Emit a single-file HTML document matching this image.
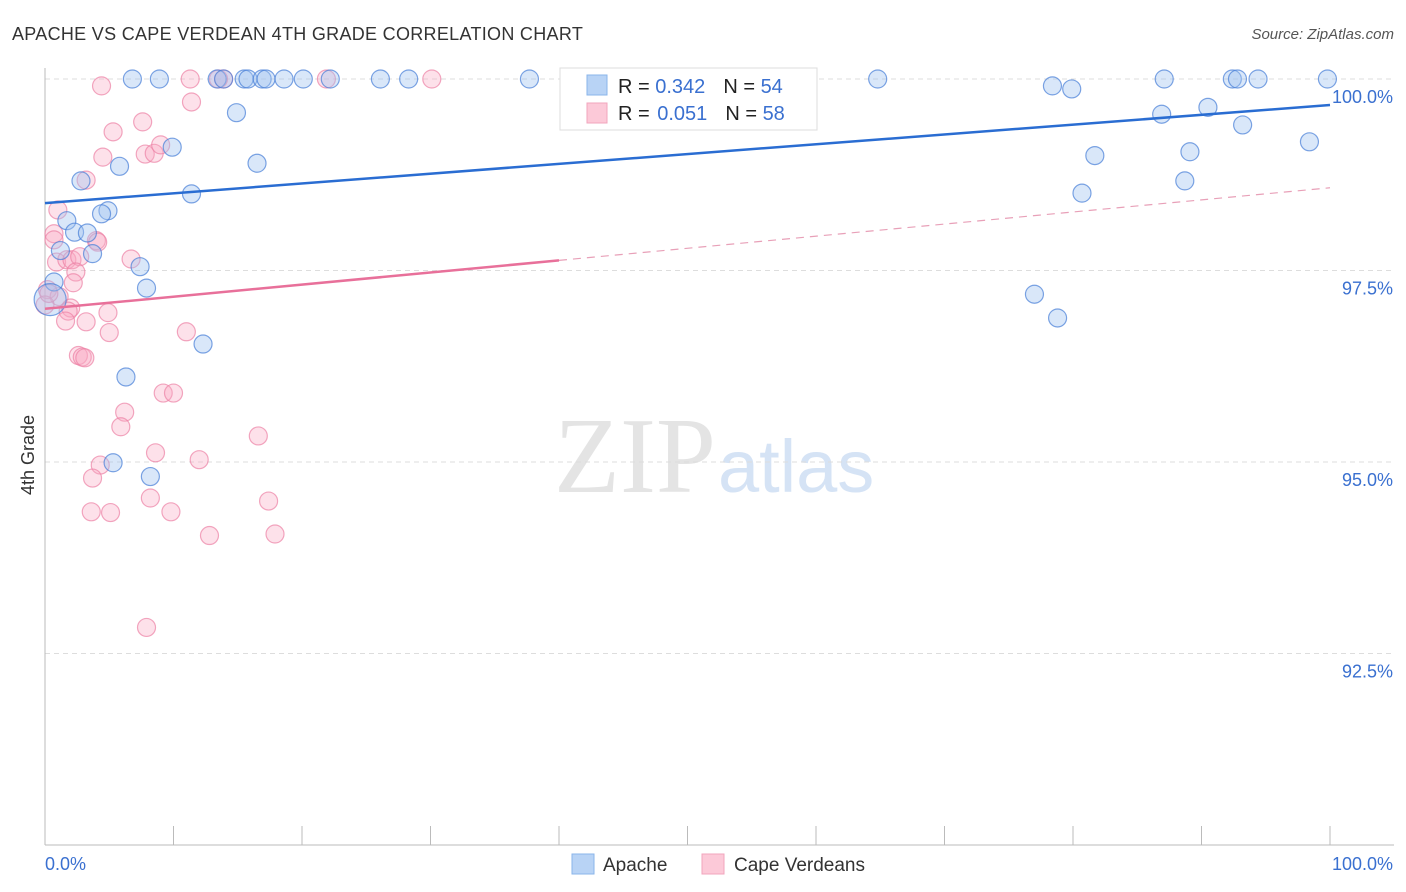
<!DOCTYPE html>
<html><head><meta charset="utf-8"><style>
body{margin:0;background:#fff;font-family:"Liberation Sans",sans-serif}
svg{display:block}
</style></head><body>
<svg id="c" width="1406" height="892" xmlns="http://www.w3.org/2000/svg">
<text x="12" y="40" font-size="18" fill="#333" letter-spacing="0.3">APACHE VS CAPE VERDEAN 4TH GRADE CORRELATION CHART</text>
<text x="1394" y="39" font-size="15" fill="#555" font-style="italic" text-anchor="end">Source: ZipAtlas.com</text>
<text x="716" y="492" font-size="108" fill="#e4e4e4" text-anchor="end" font-family="Liberation Serif,serif">ZIP</text>
<text x="718" y="492" font-size="74" fill="#d5e3f5">atlas</text>
<text x="34" y="455" font-size="18" fill="#333" transform="rotate(-90 34 455)" text-anchor="middle">4th Grade</text>
<g id="grid"></g><g id="axes"></g><g id="pts"></g><g id="lines"></g>
<g>
<rect x="560" y="68" width="257" height="62" fill="#fff" stroke="#ddd"/>
<rect x="587" y="75" width="20" height="20" fill="#b8d3f5" stroke="#8ab4ea"/>
<rect x="587" y="103" width="20" height="20" fill="#fcc9d8" stroke="#f2a5bd"/>
<text x="618" y="93" font-size="20" fill="#222">R = <tspan fill="#3a70d0">0.342</tspan><tspan dx="18">N = </tspan><tspan fill="#3a70d0">54</tspan></text>
<text x="618" y="120" font-size="20" fill="#222">R = <tspan fill="#3a70d0" dx="2">0.051</tspan><tspan dx="18">N = </tspan><tspan fill="#3a70d0">58</tspan></text>
</g>
<g>
<rect x="572" y="854" width="22" height="20" fill="#b8d3f5" stroke="#8ab4ea"/>
<text x="603" y="871" font-size="19" fill="#333">Apache</text>
<rect x="702" y="854" width="22" height="20" fill="#fcc9d8" stroke="#f2a5bd"/>
<text x="734" y="871" font-size="19" fill="#333">Cape Verdeans</text>
</g>
</svg>
<script>
const apacheX=[6.8,8.9,13.4,13.9,15.5,15.8,16.9,17.2,18.6,20.1,22.2,26.1,28.3,37.7,64.8,78.4,79.9,87.1,92.4,92.8,94.4,99.8,14.9,86.9,90.5,93.2,9.9,98.4,16.5,5.8,81.7,89.1,2.8,88.7,11.4,80.7,4.9,4.4,1.7,2.3,3.3,1.2,3.7,7.4,0.7,7.9,77.0,78.8,0.4,12.3,6.3,5.3,8.2];
const apacheY=[100,100,100,100,100,100,100,100,100,100,100,100,100,100,100,99.91,99.87,100,100,100,100,100,99.56,99.54,99.63,99.40,99.11,99.18,98.90,98.86,99.0,99.05,98.67,98.67,98.50,98.51,98.28,98.24,98.15,98.0,97.99,97.76,97.72,97.55,97.35,97.27,97.19,96.88,97.12,96.54,96.11,94.99,94.81];
const capeX=[4.4,11.3,13.9,13.5,21.9,30.1,11.4,5.3,7.6,4.5,7.8,8.5,9.0,3.2,1.0,0.7,0.7,4.0,4.1,0.9,1.7,2.1,2.7,6.7,2.4,2.2,0.2,1.1,2.0,1.8,4.9,1.6,3.2,5.0,11.0,2.6,2.9,3.1,9.2,10.0,6.2,5.9,16.6,8.6,12.0,4.3,3.7,8.2,17.4,3.6,5.1,9.8,12.8,17.9,7.9,0.0,0.3];
const capeY=[99.91,100,100,100,100,100,99.70,99.31,99.44,98.98,99.02,99.03,99.14,98.68,98.29,97.98,97.90,97.89,97.87,97.61,97.64,97.64,97.68,97.65,97.48,97.34,97.25,97.16,97.01,96.97,96.95,96.84,96.83,96.69,96.70,96.39,96.37,96.36,95.90,95.90,95.65,95.46,95.34,95.12,95.03,94.96,94.79,94.53,94.49,94.35,94.34,94.35,94.04,94.06,92.84,97.05,97.2];
const yTicks=[100,97.5,95,92.5];
const yTickLabels=["100.0%","97.5%","95.0%","92.5%"];
const apacheTrend=[98.38,99.66];
const capeTrend=[97.0,98.58];
const capeSolidEnd=40;
const X0=45,X1=1330,YTOP=79,PPU=76.6;
const sx=v=>X0+(X1-X0)*v/100;
const sy=v=>YTOP+(100-v)*PPU;
const NS="http://www.w3.org/2000/svg";
function mk(t,a,p){const e=document.createElementNS(NS,t);for(const k in a)e.setAttribute(k,a[k]);p.appendChild(e);return e;}
const grid=document.getElementById('grid'),axes=document.getElementById('axes'),pts=document.getElementById('pts'),lines=document.getElementById('lines');
yTicks.forEach((t,i)=>{
 const l=mk('line',{x1:X0,x2:1394,y1:sy(t),y2:sy(t),stroke:'#ddd','stroke-dasharray':'5,4'},grid);
 
 
 const tx=mk('text',{x:1393,y:sy(t)+24,'font-size':18,fill:'#3a70d0','text-anchor':'end'},axes);
 tx.textContent=yTickLabels[i];
 
 
});
const ax=mk('line',{x1:X0,x2:1394,y1:845,y2:845,stroke:'#bbb'},axes);


const ay=mk('line',{x1:X0,x2:X0,y1:68,y2:845,stroke:'#bbb'},axes);


for(let i=0;i<=10;i++){const t=mk('line',{x1:sx(i*10),x2:sx(i*10),y1:826,y2:845,stroke:'#bbb'},axes);
 
 }
const xl0=mk('text',{x:45,y:870,'font-size':18,fill:'#3a70d0'},axes);xl0.textContent='0.0%';


const xl1=mk('text',{x:1393,y:870,'font-size':18,fill:'#3a70d0','text-anchor':'end'},axes);xl1.textContent='100.0%';


capeX.forEach((x,i)=>{const c=mk('circle',{cx:sx(x),cy:sy(capeY[i]),r:9,fill:'rgba(248,170,195,0.35)',stroke:'rgba(236,130,165,0.7)','stroke-width':1.2},pts);
 
 });
apacheX.forEach((x,i)=>{const c=mk('circle',{cx:sx(x),cy:sy(apacheY[i]),r:(i==48?16:9),fill:'rgba(160,195,240,0.4)',stroke:'rgba(70,125,215,0.7)','stroke-width':1.2},pts);
 
 });
const bl=mk('line',{x1:sx(0),y1:sy(apacheTrend[0]),x2:sx(100),y2:sy(apacheTrend[1]),stroke:'#2a6dd2','stroke-width':2.5},lines);


const cm=capeTrend[0]+(capeTrend[1]-capeTrend[0])*capeSolidEnd/100;
const pl=mk('line',{x1:sx(0),y1:sy(capeTrend[0]),x2:sx(capeSolidEnd),y2:sy(cm),stroke:'#e8709a','stroke-width':2.5},lines);


const pd=mk('line',{x1:sx(capeSolidEnd),y1:sy(cm),x2:sx(100),y2:sy(capeTrend[1]),stroke:'#e8a0b8','stroke-width':1.2,'stroke-dasharray':'8,6'},lines);


</script>
</body></html>
